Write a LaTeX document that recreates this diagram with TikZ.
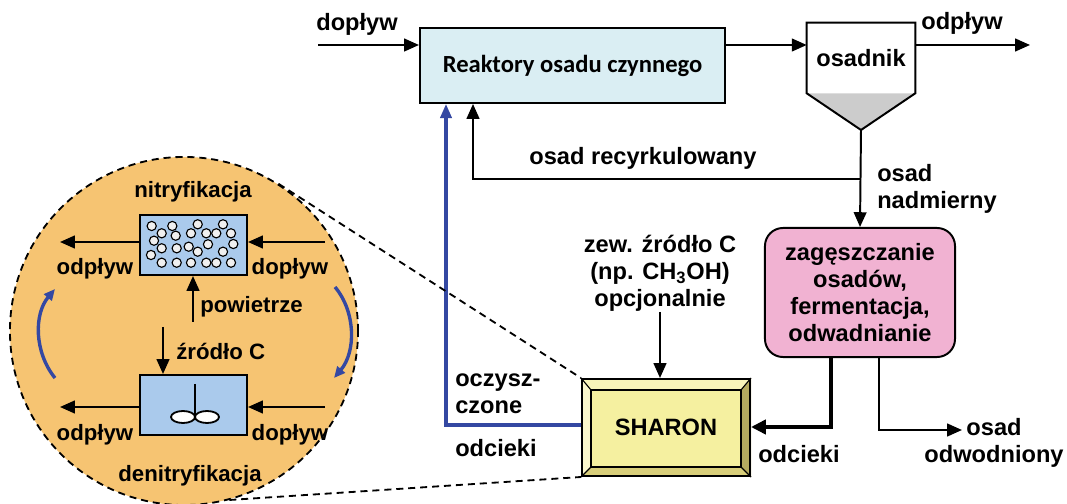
\documentclass[tikz,border=0pt]{standalone}
\usepackage{fontspec}
\setmainfont{Liberation Sans}
\newfontfamily\calibfont{Carlito}
\usepackage{tikz}
\usetikzlibrary{arrows.meta,calc,backgrounds}
\definecolor{ReakCyan}{RGB}{218,238,243}
\definecolor{SludgePink}{RGB}{241,178,210}
\definecolor{ZoomOrange}{RGB}{246,196,114}
\definecolor{TankBlue}{RGB}{170,202,236}
\definecolor{ConeGray}{RGB}{204,204,204}
\definecolor{FlowBlue}{RGB}{52,72,162}
\definecolor{ShaFace}{RGB}{245,240,160}
\definecolor{ShaTop}{RGB}{248,244,186}
\definecolor{ShaLeft}{RGB}{251,248,204}
\definecolor{ShaRight}{RGB}{180,170,96}
\definecolor{ShaBottom}{RGB}{216,206,122}

\tikzset{
  lbl/.style={font=\bfseries\fontsize{16.8}{19.2}\selectfont, inner sep=0pt},
  lbls/.style={font=\bfseries\fontsize{15.8}{18}\selectfont, inner sep=0pt},
  flow/.style={line width=1.4pt, -{Triangle[length=10.5pt,width=9pt]}},
  thickflow/.style={line width=3pt, -{Triangle[length=10.5pt,width=10pt]}},
  blueflow/.style={FlowBlue, line width=2.2pt, -{Triangle[length=10pt,width=8pt]}},
  cycleflow/.style={FlowBlue, line width=2.4pt, -{Triangle[length=8pt,width=7pt]}},
  box/.style={draw, line width=1.4pt, inner sep=0pt},
  bubble/.style={draw, fill=white!88!gray, line width=0.8pt},
  zoomlink/.style={line width=1.3pt, dash pattern=on 5pt off 3.5pt}
}

\begin{document}
\begin{tikzpicture}[x=0.025cm,y=-0.025cm]
  \useasboundingbox (0,0) rectangle (1067,504);

  % --- main line ---
  \node (reak) [box, fill=ReakCyan, minimum width=7.625cm, minimum height=1.875cm,
    font=\calibfont\bfseries\fontsize{17.5}{20}\selectfont] at (572.5,65.5) {Reaktory osadu czynnego};
  \node (osad) [inner sep=0pt, minimum width=2.7cm, minimum height=1.75cm, font=\bfseries\fontsize{16.8}{19}\selectfont]
    at (861,58) {\raisebox{-5pt}{osadnik}};
  \coordinate (tip) at (861,130);
  \fill[ConeGray] (osad.south west) -- (tip) -- (osad.south east) -- cycle;
  \draw[line width=1.4pt, line join=miter] (osad.south west) -- (osad.north west) -- (osad.north east)
    -- (osad.south east) -- (tip) -- cycle;

  \coordinate (lvl) at (0,45);
  \coordinate (inl) at (318,45);
  \coordinate (outl) at (1030,45);
  \draw[flow] (inl) -- (inl -| reak.west);
  \draw[flow] (reak.east |- lvl) -- (osad.west |- lvl);
  \draw[flow] (osad.east |- lvl) -- (outl);
  \node (tInl) [lbl, anchor=base] at (357,31) {dopływ};
  \node (tOutl) [lbl, anchor=base] at (962,30) {odpływ};

  % sludge treatment
  \node (pink) [box, fill=SludgePink, rounded corners=0.45cm, minimum width=4.75cm, minimum height=3.225cm,
    align=center, font=\bfseries\fontsize{16.8}{19.2}\selectfont] at (860,292.5)
    {zagęszczanie\\osadów,\\fermentacja,\\odwadnianie};
  \draw[flow] (tip) -- (pink.north);
  \node (tExc) [lbl, anchor=base west, align=left] at (877,182) {osad};
  \node (tExc2) [lbl, anchor=base west] at (877,209) {nadmierny};

  % recirculation
  \coordinate (rec) at (473,179);
  \draw[flow] (tip |- rec) -- (rec) -- (rec |- reak.south);
  \node (tRec) [lbl, anchor=base] at (643,165) {osad recyrkulowany};

  % SHARON
  \node (sharon) [box, minimum width=4.2cm, minimum height=2.425cm, font=\bfseries\fontsize{16.8}{19}\selectfont]
    at (666,427.5) {SHARON};
  \begin{scope}[on background layer]
    \coordinate (iNW) at ($(sharon.north west)+(10,12)$);
    \coordinate (iNE) at ($(sharon.north east)+(-10,12)$);
    \coordinate (iSW) at ($(sharon.south west)+(10,-10)$);
    \coordinate (iSE) at ($(sharon.south east)+(-10,-10)$);
    \fill[ShaTop] (sharon.north west) -- (sharon.north east) -- (iNE) -- (iNW) -- cycle;
    \fill[ShaLeft] (sharon.north west) -- (iNW) -- (iSW) -- (sharon.south west) -- cycle;
    \fill[ShaRight] (sharon.north east) -- (sharon.south east) -- (iSE) -- (iNE) -- cycle;
    \fill[ShaBottom] (sharon.south west) -- (iSW) -- (iSE) -- (sharon.south east) -- cycle;
    \fill[ShaFace] (iNW) rectangle (iSE);
  \end{scope}
  \draw[line width=1pt] (iNW) rectangle (iSE);
  \draw[line width=0.8pt] (sharon.north west) -- (iNW) (sharon.north east) -- (iNE)
    (sharon.south west) -- (iSW) (sharon.south east) -- (iSE);

  \node (zew) [lbl, align=center, anchor=south] at (660,312)
    {zew. źródło C\\(np. CH\textsubscript{3}OH)\\opcjonalnie};
  \draw[flow] (zew.south) -- (zew.south |- sharon.north);

  \coordinate (odc) at (831,427);
  \draw[thickflow] (pink.south -| odc) -- (odc) -- (odc -| sharon.east);
  \node (tOdc) [lbl, anchor=base west] at (758,463) {odcieki};

  \coordinate (odw) at (879,430);
  \coordinate (odwEnd) at (962,430);
  \draw[flow] (pink.south -| odw) -- (odw) -- (odwEnd);
  \node (tOdw) [lbl, align=center, anchor=north] at (994,418) {osad\\odwodniony};

  \coordinate (blu) at (446,425);
  \draw[blueflow] (sharon.west |- blu) -- (blu) -- (blu |- reak.south);
  \node (tCle) [lbl, anchor=base west] at (455,387) {oczysz-};
  \node (tCle2) [lbl, anchor=base west] at (455,413) {czone};
  \node (tOdc2) [lbl, anchor=base west] at (455,457) {odcieki};

  % --- zoom of the SHARON reactor ---
  \node (zoom) [circle, draw, fill=ZoomOrange, zoomlink, minimum size=8.7cm, inner sep=0pt] at (184,331) {};
  \draw[zoomlink] (tangent cs:node=zoom,point={(sharon.north west)},solution=1) -- (sharon.north west);
  \draw[zoomlink] (zoom.-75) -- (sharon.south west);

  \node (nit) [box, fill=TankBlue, minimum width=2.675cm, minimum height=1.5cm] at (193.5,245) {};
  \foreach \bx/\by in {151.7/226,172.3/226,197.7/224.3,223/224.3,161.7/233.3,175.7/235.7,191/233.3,
      206.3/233.3,216.3/233.3,231/233.3,154/240.7,161.7/248.3,176.7/248.3,188.7/246.7,208/244.3,
      233.3/244,197.7/251.7,223/251.7,151/255,161.7/262.7,176.7/262.7,191/262.7,206.3/262.7,
      216.3/262.7,231/262.7}
    \draw[bubble] (\bx,\by) circle (0.115cm);
  \node (den) [box, fill=TankBlue, minimum width=2.675cm, minimum height=1.5cm] at (193.5,405) {};
  \draw[line width=1.3pt] (195,384) -- (195,417);
  \draw[fill=white, line width=1.3pt] (183,417) ellipse (0.3cm and 0.15cm) (207,417) ellipse (0.3cm and 0.15cm);

  \node (tNit) [lbls, anchor=base] at (193,198) {nitryfikacja};
  \node (tDen) [lbls, anchor=base] at (190,482) {denitryfikacja};

  \coordinate (nitIn) at (325,242);
  \coordinate (nitOut) at (60,242);
  \coordinate (denIn) at (325,407);
  \coordinate (denOut) at (60,407);
  \draw[flow] (nitIn) -- (nitIn -| nit.east);
  \draw[flow] (nitIn -| nit.west) -- (nitOut);
  \draw[flow] (denIn) -- (denIn -| den.east);
  \draw[flow] (denIn -| den.west) -- (denOut);
  \node (tNitOut) [lbls, anchor=base] at (95,275) {odpływ};
  \node (tNitIn) [lbls, anchor=base] at (290,275) {dopływ};
  \node (tDenOut) [lbls, anchor=base] at (95,440) {odpływ};
  \node (tDenIn) [lbls, anchor=base] at (290,440) {dopływ};

  \coordinate (air) at (193,322);
  \draw[flow] (air) -- (air |- nit.south);
  \node (tAir) [lbls, anchor=base west] at (200,313) {powietrze};
  \coordinate (csrc) at (163,327);
  \draw[flow] (csrc) -- (csrc |- den.north);
  \node (tCsrc) [lbls, anchor=base west] at (176,360) {źródło C};

  % cycle arrows
  \draw[cycleflow] (55,378) .. controls (34,352) and (34,314) .. (55,289);
  \draw[cycleflow] (335,287) .. controls (356,312) and (356,352) .. (334,378);
\end{tikzpicture}
\end{document}
